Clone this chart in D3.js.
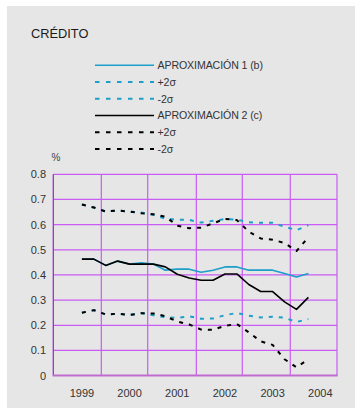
<!DOCTYPE html>
<html><head><meta charset="utf-8">
<script src="https://cdn.jsdelivr.net/npm/d3@7"></script>
<style>body{margin:0;background:#fff}svg{display:block}text{font-family:"Liberation Sans",Arial,sans-serif}</style>
</head><body>
<script>
const periods = [1999.0,1999.25,1999.5,1999.75,2000.0,2000.25,2000.5,2000.75,2001.0,2001.25,2001.5,2001.75,2002.0,2002.25,2002.5,2002.75,2003.0,2003.25,2003.5,2003.75];
const aprox1 = [0.463,0.463,0.438,0.455,0.443,0.448,0.443,0.419,0.423,0.423,0.411,0.419,0.432,0.432,0.419,0.419,0.419,0.406,0.392,0.406];
const aprox1Up = [0.680,0.668,0.652,0.656,0.652,0.648,0.638,0.624,0.619,0.619,0.608,0.615,0.622,0.620,0.609,0.607,0.607,0.592,0.578,0.598];
const aprox1Lo = [0.250,0.260,0.243,0.246,0.241,0.248,0.240,0.232,0.229,0.236,0.226,0.227,0.240,0.249,0.238,0.231,0.234,0.230,0.213,0.225];
const aprox2 = [0.463,0.463,0.438,0.455,0.443,0.443,0.443,0.432,0.403,0.388,0.379,0.379,0.404,0.404,0.362,0.334,0.334,0.293,0.263,0.311];
const aprox2Up = [0.680,0.668,0.652,0.656,0.652,0.645,0.641,0.632,0.596,0.586,0.588,0.605,0.623,0.618,0.572,0.545,0.540,0.527,0.495,0.550];
const aprox2Lo = [0.250,0.260,0.243,0.246,0.241,0.248,0.247,0.236,0.215,0.203,0.183,0.182,0.198,0.205,0.172,0.136,0.122,0.065,0.033,0.065];
const yearTicks = [1999,2000,2001,2002,2003,2004];
const gridYears = [1998.4,1999.407,2000.38,2001.4,2002.364,2003.37,2004.35];
const yTicks = [0,0.1,0.2,0.3,0.4,0.5,0.6,0.7,0.8];
const yTickLabels = ["0","0.1","0.2","0.3","0.4","0.5","0.6","0.7","0.8"];
const legendLabels = ["APROXIMACIÓN 1 (b)","+2σ","-2σ","APROXIMACIÓN 2 (c)","+2σ","-2σ"];

const W=357,H=414;
const BLUE="#1c9fc9", BLACK="#000", GRID="#c95cf5";
const svg=d3.select("body").append("svg").attr("width",W).attr("height",H);
svg.append("rect").attr("width",W).attr("height",H).attr("fill","#fff");
svg.append("rect").attr("x",7).attr("y",6).attr("width",348).attr("height",402).attr("fill","#e6e6e6");

svg.append("text").attr("x",31).attr("y",38).attr("font-size",12.8).attr("fill","#1a1a1a").text("CRÉDITO");

// legend
const styles=[
 {c:BLUE,d:null},{c:BLUE,d:"4.5,6.5"},{c:BLUE,d:"4.5,6.5"},
 {c:BLACK,d:null},{c:BLACK,d:"4.5,6.5"},{c:BLACK,d:"4.5,6.5"}];
const legY=d3.scaleLinear().domain([0,5]).range([65.3,149]);
const lg=svg.append("g");
legendLabels.forEach((t,i)=>{
  const y=legY(i);
  lg.append("line").attr("x1",95).attr("x2",154).attr("y1",y).attr("y2",y)
    .attr("stroke",styles[i].c).attr("stroke-width",styles[i].d?2:1.6)
    .attr("stroke-dasharray",styles[i].d);
  lg.append("text").attr("x",157.5).attr("y",y).attr("dy","0.36em").attr("font-size",10.6)
    .attr("fill","#333").attr("letter-spacing",-0.1).text(t);
});
svg.append("text").attr("x",51.5).attr("y",161).attr("font-size",10).attr("fill","#444").text("%");

const x=d3.scaleLinear().domain([1998.4,2004.35]).range([53.3,337]);
const y=d3.scaleLinear().domain([0,0.8]).range([375.6,174.3]);

const g=svg.append("g");
g.selectAll(".hg").data(yTicks.filter(v=>v>0)).join("line")
  .attr("x1",x.range()[0]).attr("x2",x.range()[1])
  .attr("y1",d=>y(d)).attr("y2",d=>y(d)).attr("stroke",GRID).attr("stroke-width",1.2);
g.selectAll(".vg").data(gridYears.slice(1)).join("line")
  .attr("x1",d=>x(d)).attr("x2",d=>x(d)).attr("y1",y(0)).attr("y2",y(0.8))
  .attr("stroke",GRID).attr("stroke-width",1.2);
g.append("line").attr("x1",x(gridYears[0])).attr("x2",x(gridYears[0])).attr("y1",y(0)).attr("y2",y(0.8))
  .attr("stroke","#a030c8").attr("stroke-width",1.3);
g.append("line").attr("x1",x.range()[0]-0.6).attr("x2",x.range()[1]+0.6).attr("y1",y(0)).attr("y2",y(0))
  .attr("stroke","#c06ad0").attr("stroke-width",2);

svg.selectAll(".yl").data(yTicks).join("text")
  .attr("x",46).attr("y",d=>y(d)).attr("dy","0.36em").attr("text-anchor","end")
  .attr("font-size",11).attr("fill","#333").text((d,i)=>yTickLabels[i]);
svg.selectAll(".xl").data(yearTicks).join("text")
  .attr("x",d=>x(d)).attr("y",396.5).attr("text-anchor","middle")
  .attr("font-size",11).attr("fill","#333").text(d=>d);

const line=d3.line().x((d,i)=>x(periods[i])).y(d=>y(d));
const series=[
 {v:aprox1Up,c:BLUE,d:"4,6"},{v:aprox1Lo,c:BLUE,d:"4,6"},{v:aprox1,c:BLUE,d:null},
 {v:aprox2Up,c:BLACK,d:"4,6"},{v:aprox2Lo,c:BLACK,d:"4,6"},{v:aprox2,c:BLACK,d:null}];
series.forEach(s=>{
  g.append("path").attr("d",line(s.v)).attr("fill","none").attr("stroke",s.c)
   .attr("stroke-width",s.d?2:1.6).attr("stroke-dasharray",s.d).attr("stroke-linejoin","round");
});
</script>
</body></html>
